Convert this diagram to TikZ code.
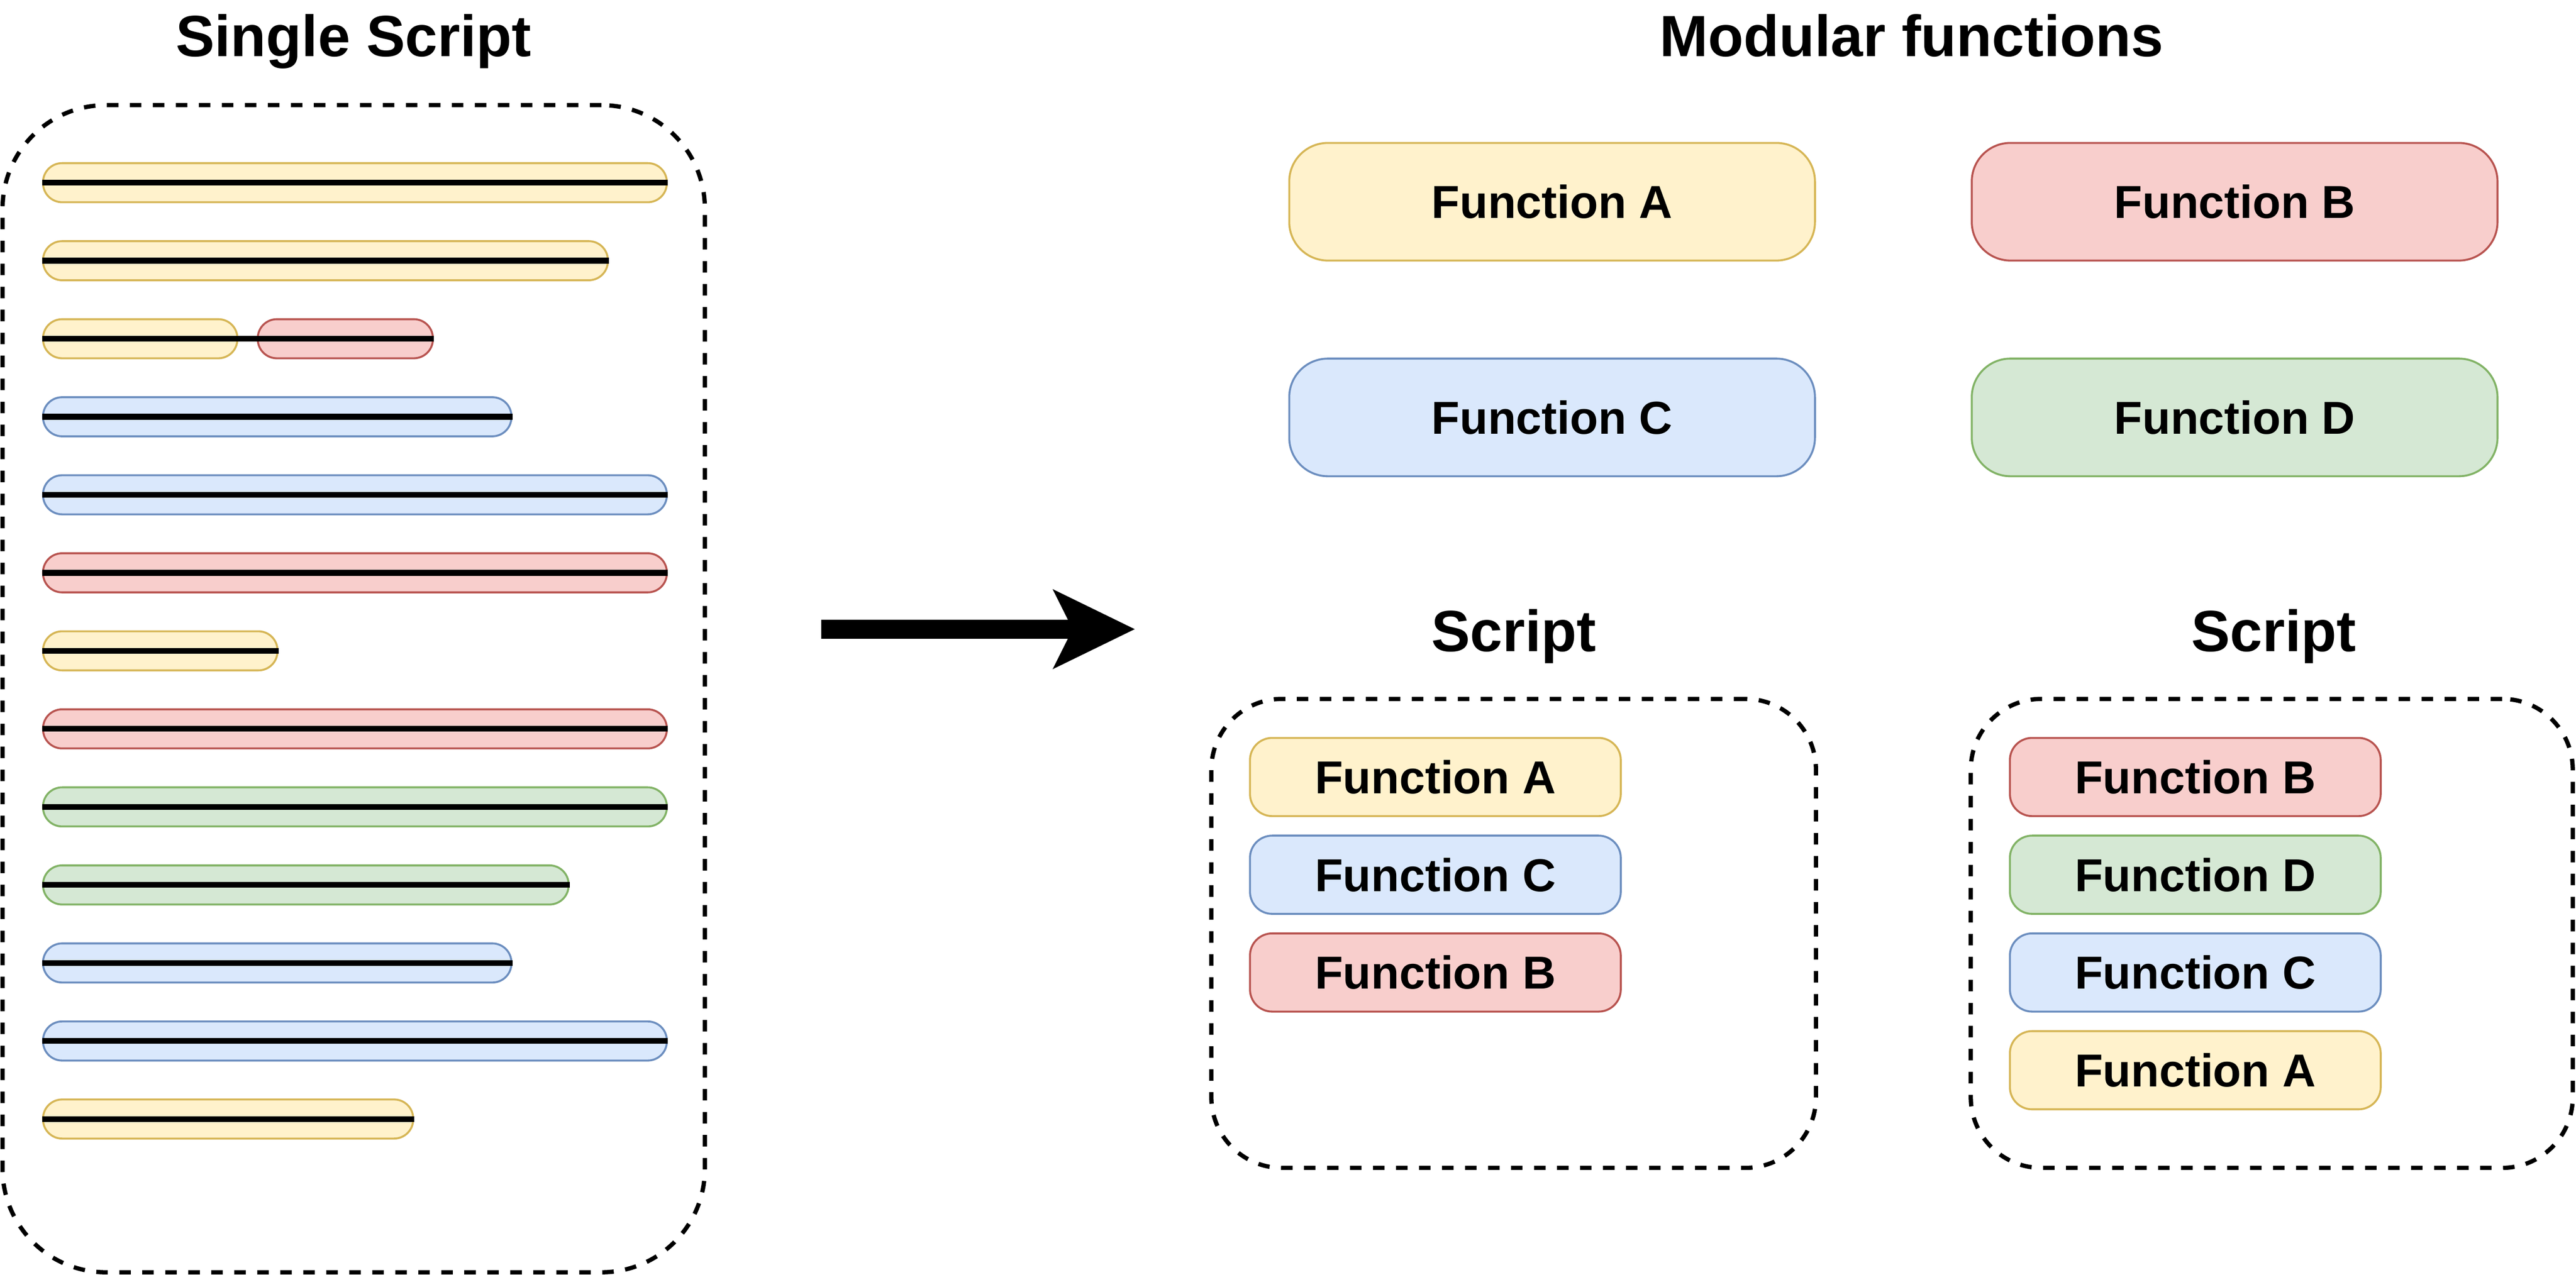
\documentclass[tikz,border=0pt]{standalone}
\usepackage{fontspec}
\setmainfont{Liberation Sans}
\usetikzlibrary{arrows.meta}

\definecolor{fillA}{HTML}{FFF2CC}
\definecolor{lineA}{HTML}{D6B656}
\definecolor{fillB}{HTML}{F8CECC}
\definecolor{lineB}{HTML}{B85450}
\definecolor{fillC}{HTML}{DAE8FC}
\definecolor{lineC}{HTML}{6C8EBF}
\definecolor{fillD}{HTML}{D5E8D4}
\definecolor{lineD}{HTML}{82B366}

\begin{document}
\begin{tikzpicture}[x=0.5pt,y=-0.5pt,
	fa/.style={fill=fillA,draw=lineA},
	fb/.style={fill=fillB,draw=lineB},
	fc/.style={fill=fillC,draw=lineC},
	fd/.style={fill=fillD,draw=lineD},
	bar/.style={line width=0.6pt,rounded corners=5.8pt,minimum height=11.9pt,inner sep=0pt,anchor=west},
	code/.style={line width=1.75pt},
	frame/.style={draw,dash pattern=on 3.5pt off 3.5pt,line width=1.3pt,inner sep=0pt},
	title/.style={font=\bfseries\fontsize{17.7}{20}\selectfont,anchor=base,inner sep=0pt},
	func/.style={line width=0.6pt,rounded corners=11.75pt,minimum width=160pt,minimum height=35.8pt,inner sep=0pt,font=\bfseries\fontsize{14.05}{16}\selectfont},
	call/.style={line width=0.6pt,rounded corners=6.75pt,minimum width=112.85pt,minimum height=23.8pt,inner sep=0pt,font=\bfseries\fontsize{14.05}{16}\selectfont}]
	\useasboundingbox (0,0) rectangle (1568,776);

	% single script
	\node[title] (tsingle) at (215.2,34.4) {Single Script};
	\node[frame,minimum width=213.75pt,minimum height=355.25pt,rounded corners=31.5pt] (single) at (215.3,419.25) {};
	\node[bar,fa,minimum width=189.85pt] (b1) at (25.6,111.2) {};
	\node[bar,fa,minimum width=171.9pt] (b2) at (25.6,158.7) {};
	\node[bar,fa,minimum width=59.15pt] (b3a) at (25.6,206.2) {};
	\node[bar,fb,minimum width=53.3pt] (b3b) at (156.3,206.2) {};
	\node[bar,fc,minimum width=142.55pt] (b4) at (25.6,253.7) {};
	\node[bar,fc,minimum width=189.85pt] (b5) at (25.6,301.2) {};
	\node[bar,fb,minimum width=189.85pt] (b6) at (25.6,348.7) {};
	\node[bar,fa,minimum width=71.35pt] (b7) at (25.6,396.2) {};
	\node[bar,fb,minimum width=189.85pt] (b8) at (25.6,443.7) {};
	\node[bar,fd,minimum width=189.85pt] (b9) at (25.6,491.2) {};
	\node[bar,fd,minimum width=159.95pt] (b10) at (25.6,538.7) {};
	\node[bar,fc,minimum width=142.55pt] (b11) at (25.6,586.2) {};
	\node[bar,fc,minimum width=189.85pt] (b12) at (25.6,633.7) {};
	\node[bar,fa,minimum width=112.65pt] (b13) at (25.6,681.2) {};
	\draw[code] (b1.west) -- (b1.east);
	\draw[code] (b2.west) -- (b2.east);
	\draw[code] (b3a.west) -- (b3b.east);
	\draw[code] (b4.west) -- (b4.east);
	\draw[code] (b5.west) -- (b5.east);
	\draw[code] (b6.west) -- (b6.east);
	\draw[code] (b7.west) -- (b7.east);
	\draw[code] (b8.west) -- (b8.east);
	\draw[code] (b9.west) -- (b9.east);
	\draw[code] (b10.west) -- (b10.east);
	\draw[code] (b11.west) -- (b11.east);
	\draw[code] (b12.west) -- (b12.east);
	\draw[code] (b13.west) -- (b13.east);

	\coordinate (from) at (500,383);
	\coordinate (to) at (690.7,383);
	\draw[line width=5.75pt,-{Stealth[length=25pt,width=24.4pt,inset=6.1pt,line width=0pt]}] (from) -- (to);

	% modular functions
	\node[title] (tmodular) at (1163.5,34.4) {Modular functions};
	\node[func,fa] (funA) at (944.75,122.8) {Function A};
	\node[func,fb] (funB) at (1360.2,122.8) {Function B};
	\node[func,fc] (funC) at (944.75,254.1) {Function C};
	\node[func,fd] (funD) at (1360.2,254.1) {Function D};

	\node[title] (tscript1) at (921.4,396.5) {Script};
	\node[frame,minimum width=184pt,minimum height=142.75pt,rounded corners=21.5pt] (script1) at (921.35,568.2) {};
	\node[call,fa] (s1A) at (873.7,473) {Function A};
	\node[call,fc] (s1C) at (873.7,532.5) {Function C};
	\node[call,fb] (s1B) at (873.7,592) {Function B};

	\node[title] (tscript2) at (1384,396.5) {Script};
	\node[frame,minimum width=183.2pt,minimum height=142.75pt,rounded corners=21.5pt] (script2) at (1382.8,568.2) {};
	\node[call,fb] (s2B) at (1336.25,473) {Function B};
	\node[call,fd] (s2D) at (1336.25,532.5) {Function D};
	\node[call,fc] (s2C) at (1336.25,592) {Function C};
	\node[call,fa] (s2A) at (1336.25,651.5) {Function A};
\end{tikzpicture}
\end{document}
